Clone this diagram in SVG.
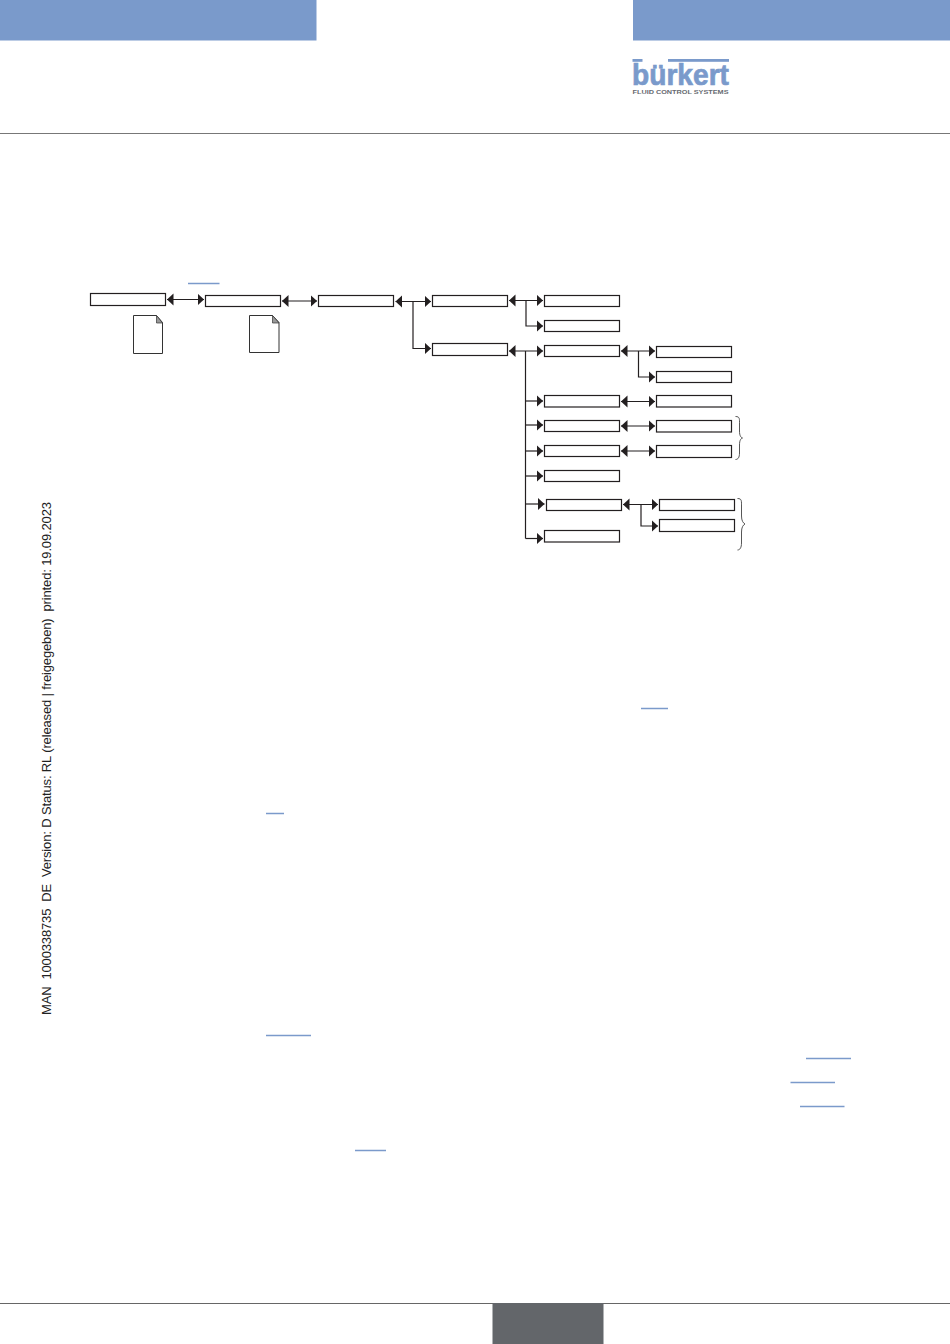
<svg xmlns="http://www.w3.org/2000/svg" width="950" height="1344" viewBox="0 0 950 1344">
<style>
.box{fill:#fff;stroke:#231f20;stroke-width:1.2}
.wire{fill:none;stroke:#231f20;stroke-width:1.2}
.biw{marker-start:url(#ah);marker-end:url(#ah)}
.one{marker-end:url(#ah)}
.link{stroke:#7b9acb;stroke-width:1.7}
.brace{fill:none;stroke:#444;stroke-width:.9}
.doc{fill:#fff;stroke:#333;stroke-width:1}
.fold{fill:#999;stroke:#333;stroke-width:.7}
text{font-family:"Liberation Sans",Arial,sans-serif}
</style>
<defs>
<marker id="ah" markerUnits="userSpaceOnUse" markerWidth="8" markerHeight="13" refX="6.5" refY="6" orient="auto-start-reverse" viewBox="0 0 8 13"><path d="M0 0L6.5 6L0 12Z" fill="#231f20"/></marker>
</defs>
<g id="page">
<rect x="0" y="0" width="316.5" height="40.5" fill="#7a9acb"/>
<rect x="633" y="0" width="317" height="40.5" fill="#7a9acb"/>
<path d="M0 133.5H950" stroke="#777" stroke-width="1"/>
<path d="M0 1303.5H950" stroke="#666" stroke-width="1"/>
<rect x="492.5" y="1303" width="111" height="41" fill="#63666a"/>
</g>
<g id="logo">
<rect x="632.500" y="59" width="10" height="2.800" fill="#7a9acb"/>
<rect x="668" y="59" width="61" height="2.800" fill="#7a9acb"/>
<text x="632" y="85" font-size="29" font-weight="700" fill="#7a9acb" stroke="#7a9acb" stroke-width=".7" textLength="97" lengthAdjust="spacingAndGlyphs">bürkert</text>
<text x="632.500" y="94" font-size="5.600" font-weight="700" fill="#666a70" textLength="96" lengthAdjust="spacingAndGlyphs">FLUID CONTROL SYSTEMS</text>
</g>
<text id="side" transform="translate(50.5 1015) rotate(-90)" font-size="13" fill="#222" textLength="513" lengthAdjust="spacing" style="white-space:pre">MAN  1000338735  DE  Version: D Status: RL (released | freigegeben)  printed: 19.09.2023</text>
<g id="links">
<path class="link" d="M188 283.500H219.500M641 708.500H668M266 813.500H284M266 1035.500H311M806 1058.500H851M790.500 1082.500H835M800 1106.500H844.500M355 1150.500H386"/>
</g>
<g id="connectors">
<path class="wire biw" d="M167 299.500H204"/>
<path class="wire biw" d="M282 301H317"/>
<path class="wire biw" d="M395.500 301.500H431"/>
<path class="wire one" d="M413 301.500V348.500H431"/>
<path class="wire biw" d="M509 300.500H543"/>
<path class="wire one" d="M526 300.500V326H543"/>
<path class="wire biw" d="M509 351H543"/>
<path class="wire" d="M525.500 351V538.500"/>
<path class="wire one" d="M525.500 401H543"/>
<path class="wire one" d="M525.500 425H543"/>
<path class="wire one" d="M525.500 451H543"/>
<path class="wire one" d="M525.500 476H543"/>
<path class="wire one" d="M525.500 504H544.500"/>
<path class="wire one" d="M525.500 538.500H543"/>
<path class="wire biw" d="M621 351H655"/>
<path class="wire one" d="M638.500 351V377H655"/>
<path class="wire biw" d="M621 401.500H655"/>
<path class="wire biw" d="M621 426H655"/>
<path class="wire biw" d="M621 451H655"/>
<path class="wire biw" d="M623 504.500H658"/>
<path class="wire one" d="M641 504.500V526H658"/>
</g>
<g id="n1"><rect class="box" x="90.500" y="293.500" width="75" height="12"/></g>
<g id="n2"><rect class="box" x="205.500" y="295.500" width="75" height="11"/></g>
<g id="n3"><rect class="box" x="318.500" y="295.500" width="75" height="11"/></g>
<g id="n4"><rect class="box" x="432.500" y="295.500" width="75" height="11"/></g>
<g id="n5"><rect class="box" x="544.500" y="295.500" width="75" height="11"/></g>
<g id="n6"><rect class="box" x="544.500" y="320.500" width="75" height="11"/></g>
<g id="n7"><rect class="box" x="432.500" y="343.500" width="75" height="12"/></g>
<g id="n8"><rect class="box" x="544.500" y="345.500" width="75" height="11"/></g>
<g id="n9"><rect class="box" x="656.500" y="346.500" width="75" height="11"/></g>
<g id="n10"><rect class="box" x="656.500" y="371.500" width="75" height="11"/></g>
<g id="n11"><rect class="box" x="544.500" y="395.500" width="75" height="11.500"/></g>
<g id="n12"><rect class="box" x="656.500" y="395.500" width="75" height="11.500"/></g>
<g id="n13"><rect class="box" x="544.500" y="420.500" width="75" height="11"/></g>
<g id="n14"><rect class="box" x="656.500" y="420.500" width="75" height="11.500"/></g>
<g id="n15"><rect class="box" x="544.500" y="445.500" width="75" height="11"/></g>
<g id="n16"><rect class="box" x="656.500" y="445.500" width="75" height="12"/></g>
<g id="n17"><rect class="box" x="544.500" y="470.500" width="75" height="11"/></g>
<g id="n18"><rect class="box" x="546.500" y="499.500" width="75" height="11"/></g>
<g id="n19"><rect class="box" x="659.500" y="499.500" width="75" height="11"/></g>
<g id="n20"><rect class="box" x="659.500" y="519.500" width="75" height="12"/></g>
<g id="n21"><rect class="box" x="544.500" y="530.500" width="75" height="11.500"/></g>
<g id="doc1"><path class="doc" d="M133.500 315.500H156.500L162.500 322.500V353.500H133.500Z"/><path class="fold" d="M156.500 315.500V323H162.500Z"/></g>
<g id="doc2"><path class="doc" d="M249.500 315.500H272.500L279 322.500V352.500H249.500Z"/><path class="fold" d="M272.500 315.500V323H279Z"/></g>
<g id="braces">
<path class="brace" d="M735.500 416.500C740 416.500 739.500 419 739.500 424V431C739.500 436 741 437.500 742.500 438C741 438.500 739.500 440 739.500 445V453C739.500 457.500 738 459.500 735.500 459.500"/>
<path class="brace" d="M737.500 498.500C742 498.500 741.500 501 741.500 507V516C741.500 520.500 743 523 745 524C743 525 741.500 527.500 741.500 532V543C741.500 547.500 740 550 737.500 550"/>
</g>
</svg>
